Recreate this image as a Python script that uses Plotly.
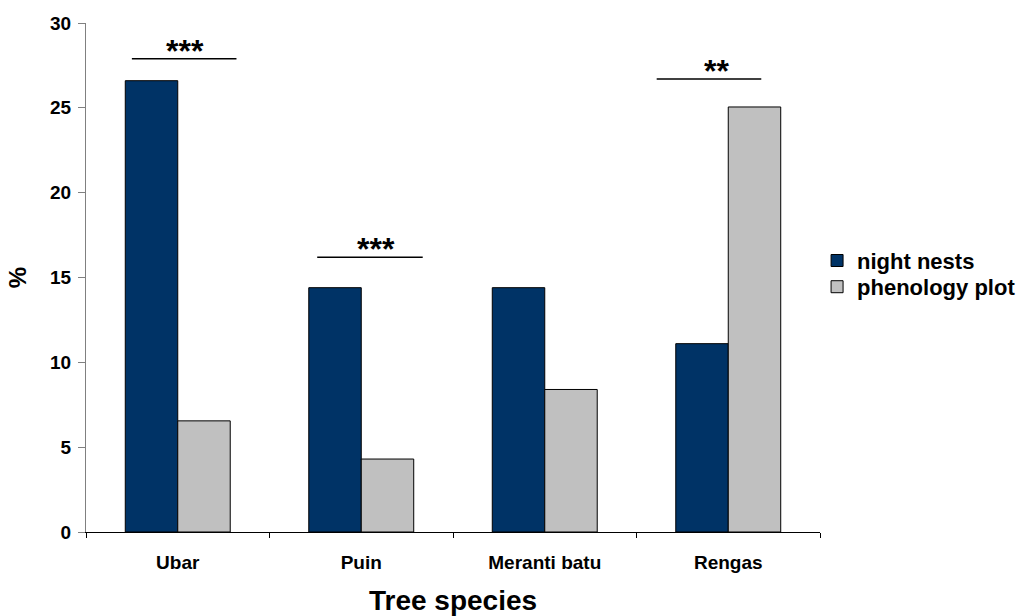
import plotly.graph_objects as go

# Share of trees per species (%)
species = ["Ubar", "Puin", "Meranti batu", "Rengas"]
night_nests = [26.6, 14.4, 14.4, 11.1]
phenology_plot = [6.55, 4.3, 8.4, 25.05]

# Significance markers: species, label, bar height (%) above which the bracket sits
sig_species = ["Ubar", "Puin", "Rengas"]
sig_labels = ["***", "***", "**"]
sig_levels = [27.9, 16.2, 26.7]

FONT = "Liberation Sans, Arial, sans-serif"
NAVY = "#003366"
GREY = "#C0C0C0"

fig = go.Figure()
fig.add_trace(go.Bar(
    x=species, y=night_nests, name="night nests",
    marker=dict(color=NAVY, line=dict(color="#000000", width=1)),
    legend="legend", showlegend=True,
))
fig.add_trace(go.Bar(
    x=species, y=phenology_plot, name="phenology plot",
    marker=dict(color=GREY, line=dict(color="#000000", width=1)),
    legend="legend2", showlegend=True,
))

# bracket geometry relative to the category centre
bracket_span = {"Ubar": (-0.25, 0.32), "Puin": (-0.24, 0.335), "Rengas": (-0.39, 0.18)}
star_offset = {"Ubar": 0.04, "Puin": 0.08, "Rengas": -0.066}

for sp, lab, lvl in zip(sig_species, sig_labels, sig_levels):
    i = species.index(sp)
    x0, x1 = bracket_span[sp]
    fig.add_shape(type="line", xref="x", yref="y",
                  x0=i + x0, x1=i + x1, y0=lvl, y1=lvl,
                  line=dict(color="#000000", width=1.5))
    fig.add_annotation(x=i + star_offset[sp], y=lvl, xref="x", yref="y",
                       text=lab, showarrow=False, yanchor="bottom",
                       yshift=-12,
                       font=dict(family=FONT, size=32, color="#000000", weight="bold"))

legend_font = dict(size=22, family=FONT, weight="bold")

fig.update_layout(
    width=1029, height=616,
    margin=dict(l=86, r=209, t=23, b=84, pad=0, autoexpand=False),
    paper_bgcolor="white", plot_bgcolor="white",
    barmode="group", bargap=0.428, bargroupgap=0,
    showlegend=True,
    font=dict(family=FONT, color="#000000", weight="bold"),
    legend=dict(x=0.996, y=0.533, xanchor="left", yanchor="middle",
                font=legend_font, bgcolor="rgba(0,0,0,0)", itemwidth=30),
    legend2=dict(x=0.996, y=0.4815, xanchor="left", yanchor="middle",
                 font=legend_font, bgcolor="rgba(0,0,0,0)", itemwidth=30),
    xaxis=dict(
        showline=True, linecolor="#000000", linewidth=1,
        ticks="outside", tickson="boundaries", ticklen=5, tickcolor="#000000",
        tickfont=dict(size=19, family=FONT, weight="bold"),
        ticklabelstandoff=13,
        title=dict(text="Tree species", font=dict(size=28, family=FONT, weight="bold"),
                   standoff=18),
        showgrid=False, zeroline=False,
    ),
    yaxis=dict(
        range=[0, 30], dtick=5,
        showline=True, linecolor="#808080", linewidth=1,
        ticks="outside", ticklen=7, tickcolor="#808080",
        tickfont=dict(size=19, family=FONT, weight="bold"),
        ticklabelstandoff=3,
        title=dict(text="%", font=dict(size=24, family=FONT, weight="bold"), standoff=16),
        showgrid=False, zeroline=False,
    ),
)

fig.write_html("out.html")
